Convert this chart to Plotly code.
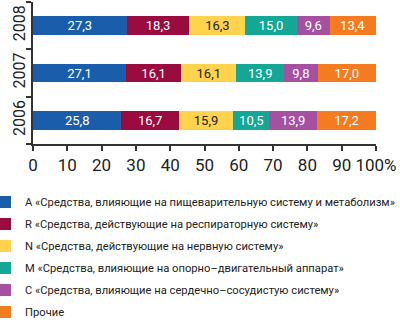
import plotly.graph_objects as go

years = ["2006", "2007", "2008"]
series_names = [
    "A «Средства, влияющие на пищеварительную систему и метаболизм»",
    "R «Средства, действующие на респираторную систему»",
    "N «Средства, действующие на нервную систему»",
    "M «Средства, влияющие на опорно–двигательный аппарат»",
    "C «Средства, влияющие на сердечно–сосудистую систему»",
    "Прочие",
]
share_a = [25.8, 27.1, 27.3]
share_r = [16.7, 16.1, 18.3]
share_n = [15.9, 16.1, 16.3]
share_m = [10.5, 13.9, 15.0]
share_c = [13.9, 9.8, 9.6]
share_other = [17.2, 17.0, 13.4]
x_tick_values = [0, 10, 20, 30, 40, 50, 60, 70, 80, 90, 100]
x_tick_labels = ["0", "10", "20", "30", "40", "50", "60", "70", "80", "90", "100%"]

series_values = [share_a, share_r, share_n, share_m, share_c, share_other]
colors = ["#1a5eab", "#9a0b3f", "#ffd34e", "#14a795", "#a650a2", "#f47b20"]
text_colors = ["white", "white", "#222222", "white", "white", "white"]

FONT = "Roboto, Arial, sans-serif"

fig = go.Figure()
for i, (name, vals) in enumerate(zip(series_names, series_values)):
    fig.add_trace(go.Bar(
        y=years, x=vals, name=name, orientation="h",
        marker=dict(color=colors[i], line=dict(width=0)),
        width=0.4,
        texttemplate="%{x:.1f}", textposition="inside",
        insidetextanchor="middle", constraintext="none",
        textfont=dict(family=FONT, size=13, color=text_colors[i]),
        legendgroup=str(i),
        hoverinfo="skip",
    ))

fig.update_layout(
    barmode="stack",
    width=400, height=328,
    margin=dict(l=31, r=24, t=2, b=176),
    paper_bgcolor="white", plot_bgcolor="white",
    separators=", ",
    showlegend=True,
    legend=dict(
        x=-0.09, y=-0.306, xanchor="left", yanchor="top",
        indentation=-15,
        traceorder="grouped", tracegroupgap=3,
        font=dict(family=FONT, size=11.2, color="#222222"),
        itemclick=False, itemdoubleclick=False,
    ),
    xaxis=dict(
        range=[0, 100], tickvals=x_tick_values, ticktext=x_tick_labels,
        showgrid=False, zeroline=False,
        showline=True, linecolor="#333333", linewidth=2,
        ticks="outside", ticklen=5, tickwidth=1.5, tickcolor="#333333",
        tickangle=0,
        tickfont=dict(family=FONT, size=17, color="#222222"),
        ticklabeloverflow="allow",
        fixedrange=True,
    ),
    yaxis=dict(
        categoryorder="array", categoryarray=years,
        range=[-0.5, 2.5],
        showgrid=False, zeroline=False,
        showline=True, linecolor="#333333", linewidth=2,
        ticks="outside", ticklen=5, tickwidth=1.5, tickcolor="#333333",
        tickson="boundaries",
        tickangle=-90,
        tickfont=dict(family=FONT, size=16, color="#222222"),
        fixedrange=True,
    ),
)

fig.write_html("out.html")
